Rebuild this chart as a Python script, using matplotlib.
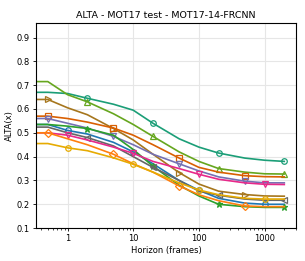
import numpy as np
import matplotlib
matplotlib.use("Agg")
import matplotlib.pyplot as plt

# horizon values (frames) at which ALTA is sampled
horizons = [0.33, 0.5, 1, 2, 5, 10, 20, 50, 100, 200, 500, 1000, 2000]

teal = [0.67, 0.67, 0.665, 0.645, 0.62, 0.595, 0.54, 0.475, 0.44, 0.415, 0.394, 0.385, 0.38]
lime = [0.715, 0.715, 0.66, 0.63, 0.58, 0.535, 0.485, 0.42, 0.38, 0.35, 0.335, 0.328, 0.327]
brown = [0.64, 0.64, 0.605, 0.576, 0.518, 0.47, 0.41, 0.333, 0.285, 0.255, 0.241, 0.235, 0.234]
dark_orange = [0.57, 0.57, 0.56, 0.545, 0.52, 0.49, 0.45, 0.394, 0.355, 0.335, 0.32, 0.316, 0.315]
purple = [0.56, 0.56, 0.54, 0.52, 0.485, 0.45, 0.41, 0.37, 0.34, 0.315, 0.297, 0.29, 0.29]
blue = [0.535, 0.535, 0.51, 0.495, 0.46, 0.42, 0.37, 0.30, 0.259, 0.225, 0.205, 0.2, 0.2]
green = [0.535, 0.535, 0.528, 0.518, 0.49, 0.43, 0.36, 0.28, 0.235, 0.2, 0.19, 0.187, 0.187]
gray = [0.524, 0.524, 0.5, 0.48, 0.445, 0.40, 0.355, 0.30, 0.255, 0.238, 0.222, 0.217, 0.217]
magenta = [0.50, 0.50, 0.49, 0.47, 0.44, 0.414, 0.38, 0.35, 0.326, 0.305, 0.29, 0.284, 0.283]
orange = [0.50, 0.50, 0.475, 0.45, 0.41, 0.37, 0.335, 0.277, 0.24, 0.215, 0.193, 0.19, 0.19]
gold = [0.455, 0.455, 0.437, 0.425, 0.395, 0.368, 0.335, 0.29, 0.26, 0.24, 0.225, 0.222, 0.222]

# (values, colour, marker, horizons carrying a marker)
series = [
    (teal, "#1b9e77", "o", [2, 20, 200, 2000]),
    (lime, "#66a61e", "^", [2, 20, 200, 2000]),
    (brown, "#a6761d", ">", [0.5, 5, 50, 500]),
    (dark_orange, "#d95f02", "s", [0.5, 5, 50, 500]),
    (purple, "#7570b3", "v", [0.5, 5, 50, 500]),
    (blue, "#1f77b4", "o", [1, 10, 100, 1000]),
    (green, "#2ca02c", "*", [2, 20, 200, 2000]),
    (gray, "#666666", "<", [2, 20, 200, 2000]),
    (magenta, "#e7298a", "v", [1, 10, 100, 1000]),
    (orange, "#ff7f0e", "D", [0.5, 5, 50, 500]),
    (gold, "#e6ab02", "o", [1, 10, 100, 1000]),
]

fig = plt.figure(figsize=(3.05, 2.61), dpi=100)
ax = fig.add_axes([0.118, 0.126, 0.852, 0.785])

for vals, col, mk, marked in series:
    every = [horizons.index(h) for h in marked]
    filled = mk == "*"
    ax.plot(horizons, vals, color=col, lw=1.2, marker=mk, markevery=every,
            markersize=4.5 if filled else 4, markeredgewidth=0.9,
            markerfacecolor=col if filled else "none", markeredgecolor=col)

ax.set_xscale("log")
ax.set_xlim(0.33, 3000)
ax.set_ylim(0.1, 0.96)
ax.set_yticks(np.arange(0.1, 0.91, 0.1))
ax.set_xticks([1, 10, 100, 1000])
ax.set_xticklabels(["1", "10", "100", "1000"])
ax.grid(True, which="major", color="#e6e6e6", lw=0.8)
ax.set_axisbelow(True)
ax.tick_params(labelsize=6, length=2.5, width=0.6, pad=2)
ax.tick_params(which="minor", length=1.5, width=0.5)
for s in ax.spines.values():
    s.set_linewidth(0.8)

ax.set_title("ALTA - MOT17 test - MOT17-14-FRCNN", fontsize=6.8, pad=4)
ax.set_xlabel("Horizon (frames)", fontsize=6, labelpad=2)
ax.set_ylabel("ALTA(x)", fontsize=6, labelpad=2)

fig.savefig("out.png", dpi=100)
